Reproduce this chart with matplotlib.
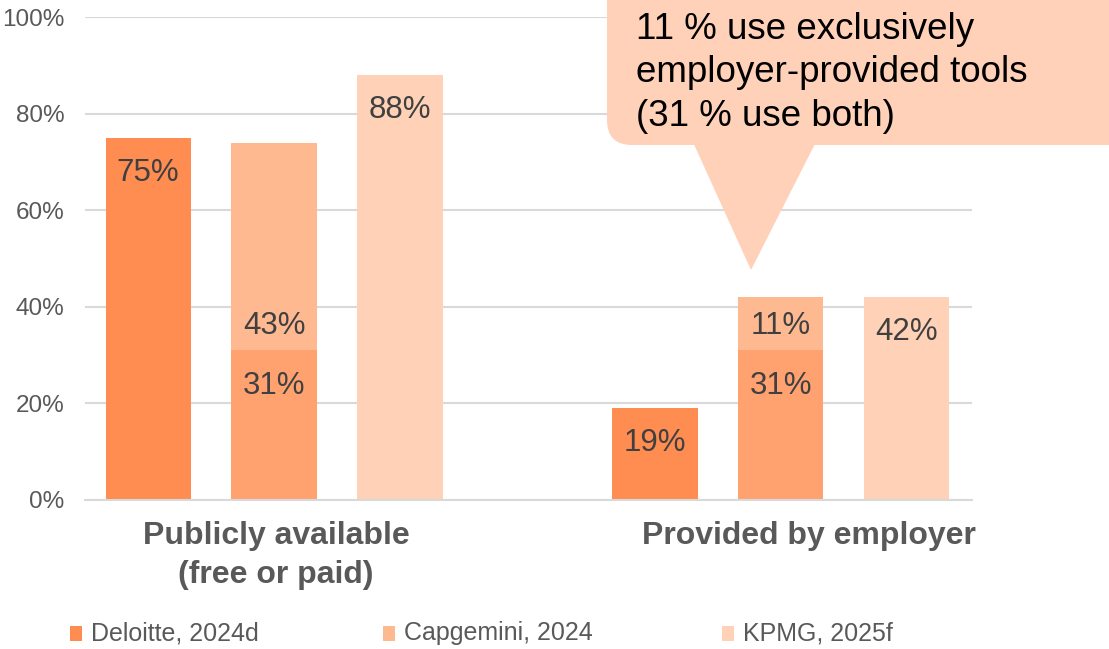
import matplotlib.pyplot as plt
from matplotlib.patches import FancyBboxPatch, Polygon, Rectangle

# ----------------------------------------
# DATA
# ----------------------------------------
categories = ["Publicly available\n(free or paid)", "Provided by employer"]
deloitte = [75, 19]
capgemini_both = [31, 31]       # lower stacked part
capgemini_only = [43, 11]       # upper stacked part
kpmg = [88, 42]
series_names = ["Deloitte, 2024d", "Capgemini, 2024", "KPMG, 2025f"]
callout_text = "11 % use exclusively\nemployer-provided tools\n(31 % use both)"

# ----------------------------------------
# STYLE
# ----------------------------------------
C_DELOITTE = "#FF8C50"
C_CAP_LOW = "#FFA270"
C_CAP_HIGH = "#FFB991"
C_KPMG = "#FFD1B6"
C_CALLOUT = "#FFD1B8"
GRID = "#D9D9D9"
TXT = "#595959"
LBL = "#404040"

plt.rcParams["font.family"] = ["Liberation Sans", "DejaVu Sans"]

W, H = 1109, 649
fig = plt.figure(figsize=(W / 100, H / 100), dpi=100)
ax = fig.add_axes([85 / W, 1 - 500 / H, (972 - 85) / W, (500 - 17) / H])

x = [0, 1]
step = 0.2485
bw = 0.168

lab = dict(ha="center", va="center", fontsize=22.5, color=LBL, zorder=3)
for i in x:
    ax.bar(i - step, deloitte[i], bw, color=C_DELOITTE, zorder=2)
    ax.bar(i, capgemini_both[i], bw, color=C_CAP_LOW, zorder=2)
    ax.bar(i, capgemini_only[i], bw, bottom=capgemini_both[i], color=C_CAP_HIGH, zorder=2)
    ax.bar(i + step, kpmg[i], bw, color=C_KPMG, zorder=2)

    # labels inside the bar ends; upper capgemini part labelled at its base
    ax.text(i - step, deloitte[i] - 7.3, f"{deloitte[i]}%", **lab)
    ax.text(i, capgemini_both[i] - 7.4, f"{capgemini_both[i]}%", **lab)
    ax.text(i, capgemini_both[i] + 5.0, f"{capgemini_only[i]}%", **lab)
    ax.text(i + step, kpmg[i] - 7.2, f"{kpmg[i]}%", **lab)

ax.set_xlim(-0.373, 1.377)
ax.set_ylim(0, 100)
ax.set_yticks(range(0, 101, 20))
ax.set_yticklabels([f"{v}%" for v in range(0, 101, 20)], fontsize=17.5, color=TXT)
ax.yaxis.grid(True, color=GRID, linewidth=1.5, zorder=0)
ax.tick_params(axis="both", length=0, pad=15)
ax.set_xticks(x)
ax.set_xticklabels([])
for side in ["top", "right", "left"]:
    ax.spines[side].set_visible(False)
ax.spines["bottom"].set_color(GRID)
ax.spines["bottom"].set_linewidth(1.5)

# category names under the groups
cat_x = [0.004, 1.055]
for cx, name in zip(cat_x, categories):
    ax.text(cx, -4.3, name, ha="center", va="top", fontsize=23,
            fontweight="bold", color=TXT, linespacing=1.42, clip_on=False)

# ----------------------------------------
# CALLOUT (pixel coords, origin top-left)
# ----------------------------------------
def fx(px):
    return px / W


def fy(py):
    return 1 - py / H


body = FancyBboxPatch((607 + 25, H - 145 + 25), 520, 200,
                      boxstyle="round,pad=25", transform=None,
                      facecolor=C_CALLOUT, edgecolor="none", zorder=5)
fig.patches.append(body)
tri = Polygon([(692, H - 140), (817, H - 140), (751, H - 270)], closed=True,
              transform=None, facecolor=C_CALLOUT, edgecolor="none", zorder=5)
fig.patches.append(tri)
fig.text(fx(636), fy(73), callout_text, fontsize=26.5, color="black",
         ha="left", va="center", linespacing=1.33, zorder=6)

# ----------------------------------------
# LEGEND
# ----------------------------------------
leg_x = [70, 383, 722]
leg_c = [C_DELOITTE, C_CAP_HIGH, C_KPMG]
for lx, lc, name in zip(leg_x, leg_c, series_names):
    fig.patches.append(Rectangle((lx, H - 641), 12, 15, transform=None,
                                 facecolor=lc, edgecolor="none"))
    fig.text(fx(lx + 21), fy(633), name, fontsize=18, color=TXT,
             ha="left", va="center")

fig.savefig("out.png", dpi=100)
